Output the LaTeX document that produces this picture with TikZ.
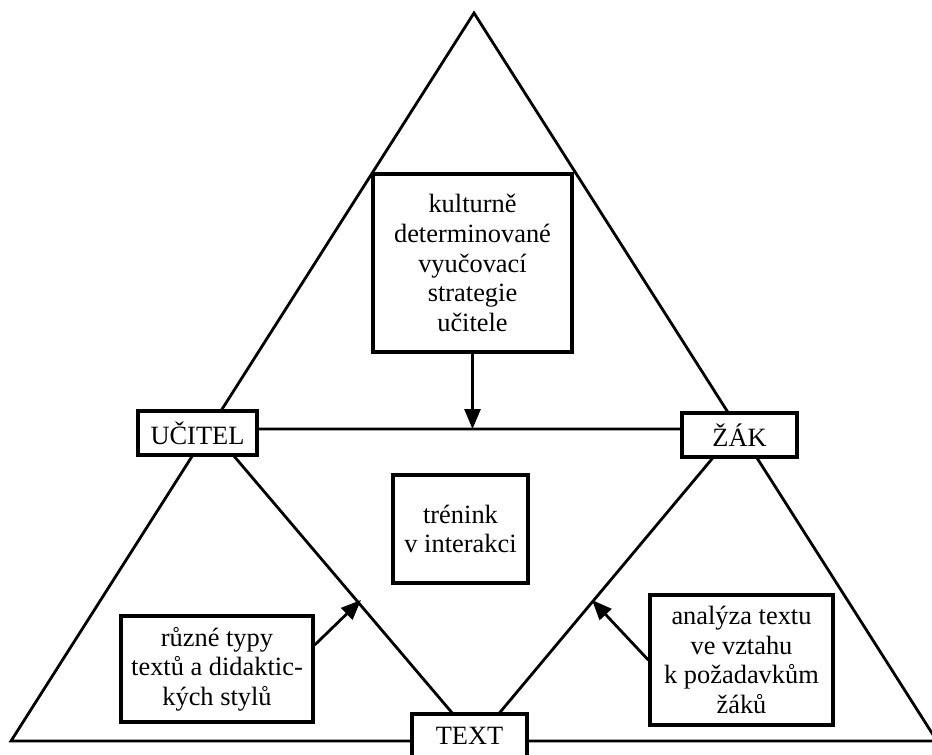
\documentclass[tikz,border=0pt]{standalone}
\usepackage{fontspec}
\setmainfont{Liberation Serif}
\usetikzlibrary{arrows.meta}

\begin{document}
\begin{tikzpicture}[x=0.5pt, y=-0.5pt, line width=1.4pt,
        box/.style={draw, fill=white, line width=1.7pt, align=center, inner sep=0pt,
                font=\fontsize{13.2}{14.8}\selectfont},
        arr/.style={-{Triangle[length=10pt, width=8pt]}}]
        \useasboundingbox (0,0) rectangle (932,755);
        \coordinate (apex) at (474,13);
        \coordinate (bl) at (11,741);
        \coordinate (br) at (937,741);
        \coordinate (U) at (211,429);
        \coordinate (Z) at (737,429);
        \coordinate (T) at (476,741);
        \coordinate (lefttip) at (361,600);
        \coordinate (righttip) at (592,600);
        \draw (apex) -- (bl) -- (br) -- cycle;
        \draw (U) -- (Z) -- (T) -- cycle;
        \node[box, minimum width=99.5pt, minimum height=89pt] (kultura) at (472.5,263)
                {kulturně\\determinované\\vyučovací\\strategie\\učitele};
        \node[box, minimum width=59.5pt, minimum height=22pt] (ucitel) at (197.5,433) {UČITEL};
        \node[box, minimum width=57.5pt, minimum height=22pt] (zak) at (739.5,435) {ŽÁK};
        \node[box, minimum width=57.5pt, minimum height=22pt] (text) at (469.5,736) {TEXT};
        \node[box, minimum width=67.5pt, minimum height=54pt] (trenink) at (460.5,529)
                {trénink\\v interakci};
        \node[box, minimum width=96pt, minimum height=53pt] (druhy) at (217,669)
                {různé typy\\textů a didaktic-\\kých stylů};
        \node[box, minimum width=91.5pt, minimum height=65pt] (analyza) at (741.5,660)
                {analýza textu\\ve vztahu\\k požadavkům\\žáků};
        \draw[arr] (kultura) -- (kultura |- U);
        \draw[arr] ([yshift=12pt]druhy.east) -- (lefttip);
        \draw[arr] (analyza.west) -- (righttip);
\end{tikzpicture}
\end{document}
